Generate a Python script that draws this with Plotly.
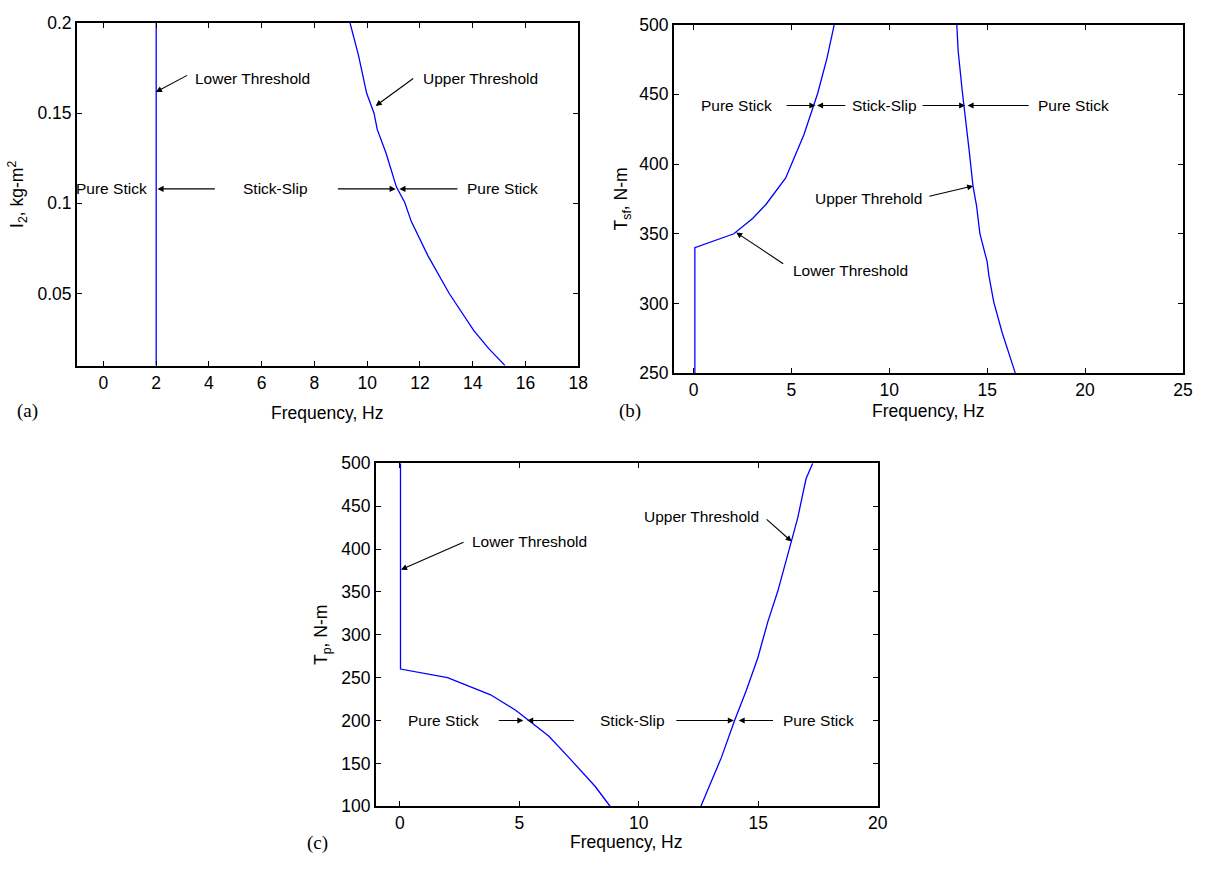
import plotly.graph_objects as go

# ---------------- data ----------------
# (a) I2 vs frequency
a_lower_freq = [2.0, 2.0]
a_lower_I2 = [0.01, 0.2]
a_upper_freq = [9.35, 9.67, 9.98, 10.26, 10.38, 10.71, 11.11, 11.42, 11.67, 12.30, 13.11, 14.05, 14.61, 15.23]
a_upper_I2 = [0.200, 0.182, 0.161, 0.150, 0.141, 0.128, 0.109, 0.1006, 0.090, 0.071, 0.050, 0.0293, 0.0194, 0.010]

# (b) Tsf vs frequency
b_lower_freq = [0.07, 0.07, 2.06, 3.02, 3.70, 4.71, 5.64, 6.14, 6.35, 6.82, 7.19]
b_lower_T = [250, 340, 350, 361, 371, 390, 421, 442, 451, 476, 500]
b_upper_freq = [13.45, 13.52, 13.74, 13.82, 14.08, 14.28, 14.46, 14.63, 15.00, 15.09, 15.34, 15.77, 16.44]
b_upper_T = [500, 481, 451, 442, 410, 384, 370, 350, 330, 320, 301, 279, 250]

# (c) Tp vs frequency
c_lower_freq = [0.03, 0.03, 2.0, 3.80, 4.85, 5.40, 6.23, 7.07, 8.18, 8.80]
c_lower_T = [500, 260, 250, 230, 212, 200, 182, 157, 123, 100]
c_upper_freq = [12.60, 13.46, 14.01, 14.50, 14.98, 15.40, 15.82, 16.17, 16.40, 16.65, 17.00, 17.28]
c_upper_T = [100, 157, 200, 235, 273, 315, 351, 387, 412, 436, 482, 500]

a_xticks = [0, 2, 4, 6, 8, 10, 12, 14, 16, 18]
a_yticks = [0.05, 0.1, 0.15, 0.2]
b_xticks = [0, 5, 10, 15, 20, 25]
b_yticks = [250, 300, 350, 400, 450, 500]
c_xticks = [0, 5, 10, 15, 20]
c_yticks = [100, 150, 200, 250, 300, 350, 400, 450, 500]

# ---------------- figure ----------------
W, H = 1216, 869
BLUE = "#0000FF"
SANS = "Liberation Sans, Arial, Helvetica, sans-serif"
SERIF = "Liberation Serif, Times New Roman, serif"
TICK_SIZE = 17.5
ANN_SIZE = 15.5

fig = go.Figure()

def line(x, y, xa, ya):
    fig.add_trace(go.Scatter(x=x, y=y, mode="lines", xaxis=xa, yaxis=ya,
                             line=dict(color=BLUE, width=1.3), showlegend=False,
                             hoverinfo="skip"))

line(a_lower_freq, a_lower_I2, "x", "y")
line(a_upper_freq, a_upper_I2, "x", "y")
line(b_lower_freq, b_lower_T, "x2", "y2")
line(b_upper_freq, b_upper_T, "x2", "y2")
line(c_lower_freq, c_lower_T, "x3", "y3")
line(c_upper_freq, c_upper_T, "x3", "y3")

def px_dom(x0, x1):
    return [x0 / W, x1 / W]

def py_dom(y_top, y_bot):
    return [1 - y_bot / H, 1 - y_top / H]

axis_common = dict(showline=True, linecolor="black", linewidth=2, mirror="ticks",
                   ticks="inside", ticklen=5, tickwidth=1, tickcolor="black",
                   showgrid=False, zeroline=False,
                   tickfont=dict(family=SANS, size=TICK_SIZE, color="black"))

title_font = dict(family=SANS, size=TICK_SIZE, color="black")

fig.update_layout(
    width=W, height=H,
    margin=dict(l=0, r=0, t=0, b=0),
    paper_bgcolor="white", plot_bgcolor="white",
    xaxis=dict(domain=px_dom(77.7, 583), range=[-1, 18], tickvals=a_xticks, anchor="y", **axis_common),
    yaxis=dict(domain=py_dom(13.3, 364), range=[0.01, 0.2], tickvals=a_yticks, anchor="x",
               title=dict(text="I<sub>2</sub>, kg-m<sup>2</sup>", font=title_font, standoff=9),
               **axis_common),
    xaxis2=dict(domain=px_dom(679.5, 1192.7), range=[-1, 25], tickvals=b_xticks, anchor="y2", **axis_common),
    yaxis2=dict(domain=py_dom(15, 371.7), range=[250, 500], tickvals=b_yticks, anchor="x2",
                title=dict(text="T<sub>sf</sub>, N-m", font=title_font, standoff=7),
                **axis_common),
    xaxis3=dict(domain=px_dom(379, 885), range=[-1, 20], tickvals=c_xticks, anchor="y3", **axis_common),
    yaxis3=dict(domain=py_dom(464, 815), range=[100, 500], tickvals=c_yticks, anchor="x3",
                title=dict(text="T<sub>p</sub>, N-m", font=title_font, standoff=9),
                **axis_common),
)

ann = []

def paper_text(text, x, y, font, size, xanchor="center"):
    ann.append(dict(text=text, x=x / W, y=1 - y / H, xref="paper", yref="paper",
                    showarrow=False, xanchor=xanchor, yanchor="middle",
                    font=dict(family=font, size=size, color="black")))

# panel labels and x titles
paper_text("(a)", 28, 410, SERIF, 19)
paper_text("(b)", 635, 410, SERIF, 19)
paper_text("(c)", 320, 853, SERIF, 19)
paper_text("Frequency, Hz", 330, 412, SANS, TICK_SIZE)
paper_text("Frequency, Hz", 936, 410, SANS, TICK_SIZE)
paper_text("Frequency, Hz", 632, 852, SANS, TICK_SIZE)

def label(text, x, y, xs, ys, xanchor):
    ann.append(dict(text=text, x=x, y=y, xref=xs, yref=ys, showarrow=False,
                    xanchor=xanchor, yanchor="middle",
                    font=dict(family=SANS, size=ANN_SIZE, color="black")))

def arrow(x_tail, y_tail, x_head, y_head, xs, ys):
    ann.append(dict(text="", x=x_head, y=y_head, ax=x_tail, ay=y_tail,
                    xref=xs, yref=ys, axref=xs, ayref=ys, showarrow=True,
                    arrowhead=2, arrowsize=1.1, arrowwidth=1.1, arrowcolor="black",
                    standoff=0, startstandoff=0))

# (a)
label("Lower Threshold", 3.38, 0.1693, "x", "y", "left")
arrow(3.23, 0.1714, 1.99, 0.1617, "x", "y")
label("Pure Stick", 1.72, 0.108, "x", "y", "right")
arrow(4.28, 0.108, 2.05, 0.108, "x", "y")
label("Stick-Slip", 6.54, 0.108, "x", "y", "center")
arrow(8.83, 0.108, 11.08, 0.108, "x", "y")
label("Pure Stick", 13.7, 0.108, "x", "y", "left")
arrow(13.48, 0.108, 11.22, 0.108, "x", "y")
label("Upper Threshold", 12.05, 0.1693, "x", "y", "left")
arrow(11.8, 0.1698, 10.32, 0.154, "x", "y")

# (b)
label("Pure Stick", 4.12, 442, "x2", "y2", "right")
arrow(4.68, 442, 6.23, 442, "x2", "y2")
label("Stick-Slip", 9.75, 442, "x2", "y2", "center")
arrow(7.83, 442, 6.31, 442, "x2", "y2")
arrow(11.63, 442, 13.88, 442, "x2", "y2")
label("Pure Stick", 17.51, 442, "x2", "y2", "left")
arrow(17.2, 442, 14.0, 442, "x2", "y2")
label("Upper Threhold", 8.93, 375, "x2", "y2", "center")
arrow(11.97, 376.6, 14.29, 384.3, "x2", "y2")
label("Lower Threshold", 4.96, 323.6, "x2", "y2", "left")
arrow(4.66, 327.8, 2.18, 350.9, "x2", "y2")

# (c)
label("Lower Threshold", 2.94, 408.5, "x3", "y3", "left")
arrow(2.73, 408.8, 0.05, 376, "x3", "y3")
label("Pure Stick", 3.39, 200, "x3", "y3", "right")
arrow(4.08, 200, 5.17, 200, "x3", "y3")
arrow(7.35, 200, 5.33, 200, "x3", "y3")
label("Stick-Slip", 9.72, 200, "x3", "y3", "center")
arrow(11.51, 200, 13.98, 200, "x3", "y3")
label("Pure Stick", 15.96, 200, "x3", "y3", "left")
arrow(15.68, 200, 14.18, 200, "x3", "y3")
label("Upper Threshold", 12.64, 438, "x3", "y3", "center")
arrow(15.29, 436.2, 16.40, 408.8, "x3", "y3")

fig.update_layout(annotations=ann)
fig.write_html("out.html")
